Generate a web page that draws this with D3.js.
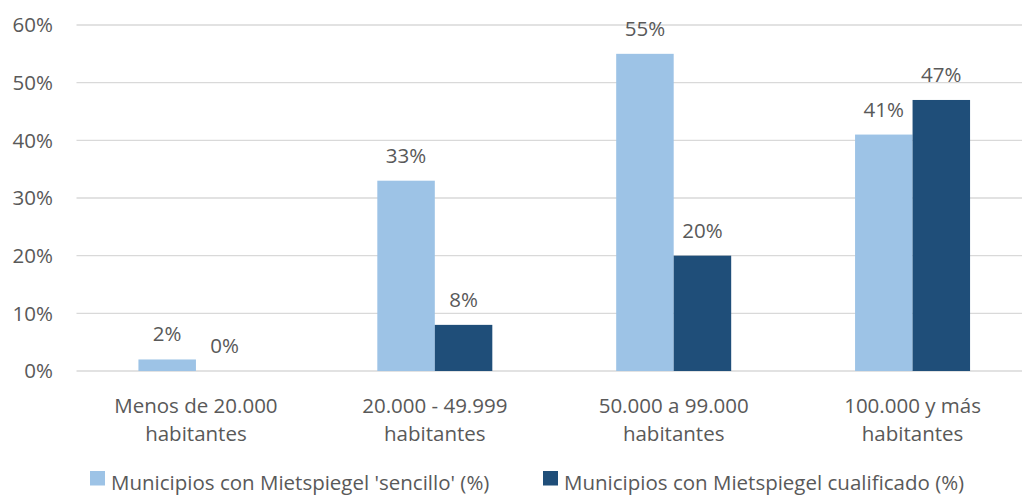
<!DOCTYPE html>
<html lang="es">
<head>
<meta charset="UTF-8">
<title>Mietspiegel por tamaño de municipio</title>
<style>
  body { margin: 0; background: #fff; }
  svg text { font-family: "Open Sans", "Noto Sans", sans-serif; fill: #595959; }
</style>
</head>
<body>
<svg id="chart" width="1022" height="495"></svg>
<script src="https://d3js.org/d3.v7.min.js"></script>
<script>
// data
const categories = [["Menos de 20.000", "habitantes"], ["20.000 - 49.999", "habitantes"],
                    ["50.000 a 99.000", "habitantes"], ["100.000 y más", "habitantes"]];
const seriesNames = ["Municipios con Mietspiegel 'sencillo' (%)", "Municipios con Mietspiegel cualificado (%)"];
const sencillo = [2, 33, 55, 41];
const cualificado = [0, 8, 20, 47];
const yTicks = [0, 10, 20, 30, 40, 50, 60];
const colors = ["#9dc3e6", "#1f4e79"];

const svg = d3.select("#chart");
const plotLeft = 76.5, plotRight = 1032, plotTop = 25, plotBottom = 371;
const fs = 20.5;

const x = d3.scaleBand().domain(d3.range(categories.length)).range([plotLeft, plotRight]);
const y = d3.scaleLinear().domain([0, 60]).range([plotBottom, plotTop]);
const barW = 57.5;

// gridlines
svg.append("g").selectAll("line").data(yTicks).join("line")
  .attr("x1", plotLeft).attr("x2", plotRight)
  .attr("y1", d => y(d)).attr("y2", d => y(d))
  .attr("stroke", "#d9d9d9").attr("stroke-width", 1.3);

// y labels
svg.append("g").selectAll("text").data(yTicks).join("text")
  .attr("x", 53).attr("y", d => y(d)).attr("dy", "0.36em")
  .attr("text-anchor", "end").attr("font-size", fs)
  .text(d => d + "%");

// bars
const series = [sencillo, cualificado];
series.forEach((vals, s) => {
  const g = svg.append("g");
  g.selectAll("rect").data(vals).join("rect")
    .attr("x", (d, i) => x(i) + x.bandwidth() / 2 + (s - 1) * barW)
    .attr("y", d => y(d))
    .attr("width", barW)
    .attr("height", d => y(0) - y(d))
    .attr("fill", colors[s]);
  g.selectAll("text").data(vals).join("text")
    .attr("x", (d, i) => x(i) + x.bandwidth() / 2 + (s - 0.5) * barW)
    .attr("y", d => y(d) - 18)
    .attr("text-anchor", "middle").attr("font-size", fs)
    .text(d => d + "%");
});

// category labels
const cat = svg.append("g").selectAll("text").data(categories).join("text")
  .attr("text-anchor", "middle").attr("font-size", fs)
  .attr("x", (d, i) => x(i) + x.bandwidth() / 2);
cat.append("tspan").attr("y", 412.5).text(d => d[0]);
cat.append("tspan").attr("y", 441).attr("x", (d, i) => x(i) + x.bandwidth() / 2).text(d => d[1]);

// legend
const legendX = [90, 543];
const lg = svg.append("g").selectAll("g").data(seriesNames).join("g")
  .attr("transform", (d, i) => `translate(${legendX[i]},0)`);
lg.append("rect").attr("x", 0).attr("y", 471).attr("width", 15).attr("height", 14.5)
  .attr("fill", (d, i) => colors[i]);
lg.append("text").attr("x", 21).attr("y", 490).attr("font-size", fs).text(d => d);
</script>
</body>
</html>
